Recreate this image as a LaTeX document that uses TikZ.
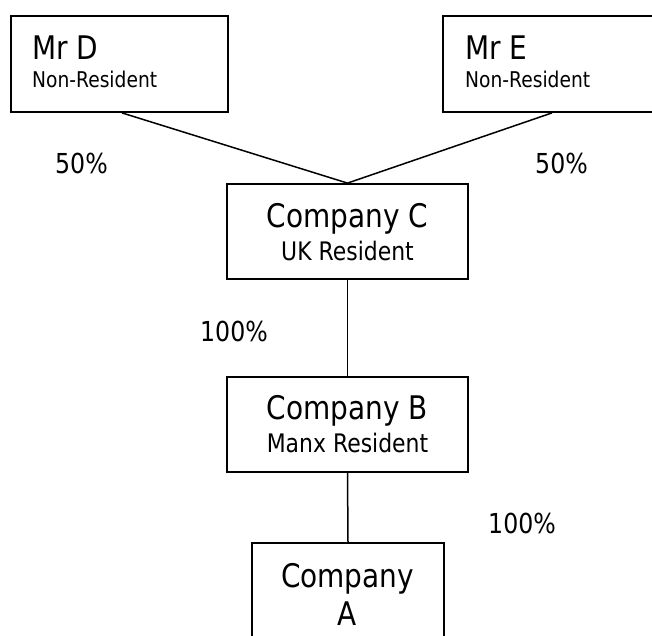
\documentclass[tikz,border=0pt]{standalone}
\usepackage{fontspec}
\setmainfont{DejaVu Sans}[FakeStretch=0.86]
\begin{document}
\begin{tikzpicture}[x=1pt,y=-1pt,
  box/.style={draw=black, line width=1.8pt, fill=white, inner sep=0pt, rectangle},
  conn/.style={draw=black, line width=1.5pt},
  big/.style={inner sep=0pt, font=\fontsize{32.5}{36}\selectfont},
  small/.style={inner sep=0pt, font=\fontsize{21.7}{24}\selectfont},
  mid/.style={inner sep=0pt, font=\fontsize{25.5}{28}\selectfont},
  pct/.style={inner sep=0pt, font=\fontsize{27.5}{30}\selectfont}]
\useasboundingbox (0,0) rectangle (652,635);
\clip (0,0) rectangle (652,635);
% boxes
\node[box, minimum width=217pt, minimum height=96pt] (mrd) at (119.5,64) {};
\node[box, minimum width=218pt, minimum height=96pt] (mre) at (552,64) {};
\node[box, minimum width=241pt, minimum height=95pt] (coc) at (347.5,231.5) {};
\node[box, minimum width=241pt, minimum height=95pt] (cob) at (347.5,424.5) {};
\node[box, minimum width=192pt, minimum height=120pt] (coa) at (348,603) {};
% connectors
\coordinate (dstart) at ([xshift=2.5pt]mrd.south);
\draw[conn] (dstart) -- (coc.north);
\draw[conn] (mre.south) -- (coc.north);
\draw[conn] (coc.south) -- (cob.north);
\draw[conn] (cob.south) -- (coa.north);
% texts
\node[big, anchor=base west] (mrdname) at (32,59) {Mr D};
\node[small, anchor=base west] (mrdres) at (32,87) {Non-Resident};
\node[big, anchor=base west] (mrename) at (465,59) {Mr E};
\node[small, anchor=base west] (mreres) at (465,87) {Non-Resident};
\node[big, anchor=base] (cocname) at (347.5,227) {Company C};
\node[mid, anchor=base] (cocres) at (347.5,260) {UK Resident};
\node[big, anchor=base] (cobname) at (347.5,419) {Company B};
\node[mid, anchor=base] (cobres) at (347.5,452) {Manx Resident};
\node[big, anchor=base] (coaname) at (347.5,587) {Company};
\node[big, anchor=base] (coaletter) at (347.5,625) {A};
% percentages
\node[pct, anchor=base west] (pd) at (55,173) {50\%};
\node[pct, anchor=base west] (pe) at (535,173) {50\%};
\node[pct, anchor=base west] (pc) at (200,341) {100\%};
\node[pct, anchor=base west] (pb) at (488,533) {100\%};
\end{tikzpicture}
\end{document}
